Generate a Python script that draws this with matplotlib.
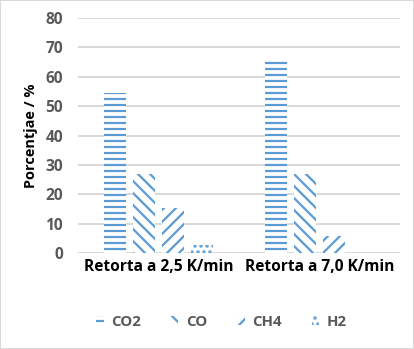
# gas composition per retort heating rate, bar chart with hatches

import numpy as np
import matplotlib.pyplot as plt
from matplotlib.patches import Patch

categories = ['Retorta a 2,5 K/min', 'Retorta a 7,0 K/min']
gases = ['CO2', 'CO', 'CH4', 'H2']
co2 = [54.5, 65.5]
co = [27.0, 27.0]
ch4 = [15.3, 5.8]
h2 = [2.7, 0.0]
yticks = [0, 10, 20, 30, 40, 50, 60, 70, 80]

blue = '#5B9BD5'
grey = '#D9D9D9'
text_grey = '#595959'
hatches = ['--', '\\\\', '//', '..']

plt.rcParams['font.family'] = ['Open Sans', 'DejaVu Sans']
plt.rcParams['font.weight'] = 'bold'
plt.rcParams['hatch.linewidth'] = 2.2

fig = plt.figure(figsize=(414/72, 349/72), dpi=72, linewidth=1.5, edgecolor=grey)
ax = fig.add_axes([78/414, 1-253/349, 322/414, 235/349])

x = np.arange(len(categories))
w = 0.137
step = 0.18
series = [co2, co, ch4, h2]
for i, vals in enumerate(series):
    ax.bar(x + (i-1.5)*step, vals, w, color='white', edgecolor=blue,
           linewidth=0, hatch=hatches[i], zorder=3)

ax.set_xlim(-0.5, 1.5)
ax.set_ylim(0, 80)
ax.set_yticks(yticks)
ax.set_xticks(x)
ax.set_xticklabels(categories, fontsize=15.5, color='black', fontweight='bold')
ax.tick_params(axis='y', labelsize=15.5, labelcolor=text_grey, length=0, pad=15)
ax.tick_params(axis='x', length=0, pad=6)
ax.grid(axis='y', color=grey, linewidth=2, zorder=0)
for s in ['top', 'right', 'left', 'bottom']:
    ax.spines[s].set_visible(False)
ax.set_ylabel('Porcentjae / %', fontsize=14.5, fontweight='bold', labelpad=7)

handles = [Patch(facecolor='white', edgecolor=blue, linewidth=0, hatch=h) for h in hatches]
fig.legend(handles, gases, loc='center', bbox_to_anchor=(0.535, 1-322/349), ncol=4,
           frameon=False, fontsize=15, labelcolor=text_grey, handlelength=0.5,
           handleheight=0.5, columnspacing=2.0, handletextpad=0.5)

fig.savefig('out.png', dpi=72)
